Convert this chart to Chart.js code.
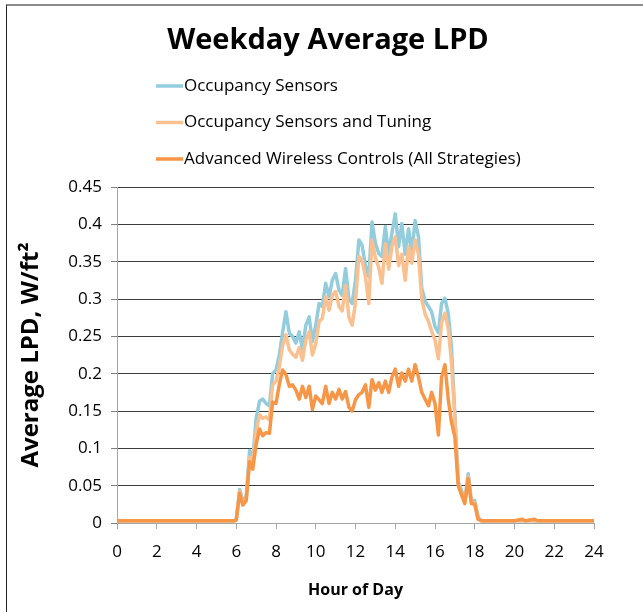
<!DOCTYPE html>
<html>
<head>
<meta charset="utf-8">
<script src="https://cdn.jsdelivr.net/npm/chart.js@4.4.1/dist/chart.umd.min.js"></script>
<style>
html,body{margin:0;padding:0;background:#fff;overflow:hidden;}
#wrap{position:relative;width:643px;height:612px;}
#frame{position:absolute;left:6px;top:4px;width:700px;height:700px;border-top:2px solid #8c8c8c;border-left:1px solid #222;pointer-events:none;}
</style>
</head>
<body>
<div id="wrap">
<canvas id="lpd" width="643" height="612"></canvas>
<div id="frame"></div>
</div>
<script>
// hour of day
const hours=[0,1,2,3,4,5,5.92,
6.00,6.17,6.33,6.50,6.67,6.83,7.00,7.17,7.33,7.50,7.67,7.83,
8.00,8.17,8.33,8.50,8.67,8.83,9.00,9.17,9.33,9.50,9.67,9.83,
10.00,10.17,10.33,10.50,10.67,10.83,11.00,11.17,11.33,11.50,11.67,11.83,
12.00,12.17,12.33,12.50,12.67,12.83,13.00,13.17,13.33,13.50,13.67,13.83,
14.00,14.17,14.33,14.50,14.67,14.83,15.00,15.17,15.33,15.50,15.67,15.83,
16.00,16.17,16.33,16.50,16.67,16.83,17.00,17.17,17.33,17.50,17.67,17.83,
18.00,18.17,18.33,19,20,20.4,20.55,21,21.15,22,23,24];

const occSensors=[0.003,0.003,0.003,0.003,0.003,0.003,0.003,
0.004,0.045,0.030,0.035,0.097,0.086,0.140,0.163,0.166,0.160,0.157,0.200,
0.205,0.225,0.255,0.283,0.254,0.250,0.241,0.256,0.232,0.265,0.276,0.243,
0.265,0.294,0.290,0.321,0.303,0.325,0.334,0.312,0.305,0.341,0.300,0.294,
0.325,0.379,0.372,0.345,0.330,0.403,0.375,0.361,0.357,0.397,0.360,0.388,
0.414,0.370,0.401,0.360,0.394,0.362,0.405,0.383,0.315,0.297,0.290,0.283,
0.263,0.255,0.294,0.301,0.280,0.235,0.145,0.055,0.044,0.030,0.066,0.030,
0.030,0.008,0.003,0.003,0.003,0.003,0.003,0.003,0.003,0.003,0.003,0.003];

const occTuning=[0.003,0.003,0.003,0.003,0.003,0.003,0.003,
0.004,0.042,0.027,0.032,0.088,0.080,0.122,0.145,0.140,0.142,0.138,0.185,
0.190,0.210,0.237,0.252,0.232,0.226,0.222,0.235,0.218,0.245,0.256,0.225,
0.240,0.270,0.274,0.303,0.285,0.305,0.310,0.290,0.284,0.318,0.275,0.265,
0.295,0.357,0.352,0.330,0.294,0.379,0.355,0.342,0.321,0.374,0.340,0.370,
0.383,0.345,0.360,0.325,0.370,0.348,0.379,0.360,0.300,0.280,0.270,0.257,
0.245,0.220,0.268,0.281,0.260,0.215,0.140,0.052,0.040,0.028,0.062,0.028,
0.027,0.006,0.003,0.003,0.003,0.003,0.003,0.003,0.003,0.003,0.003,0.003];

const advWireless=[0.003,0.003,0.003,0.003,0.003,0.003,0.003,
0.004,0.040,0.024,0.030,0.082,0.072,0.105,0.126,0.117,0.121,0.120,0.162,
0.160,0.186,0.205,0.199,0.183,0.185,0.178,0.166,0.183,0.168,0.183,0.152,
0.170,0.165,0.160,0.183,0.160,0.175,0.166,0.179,0.166,0.176,0.155,0.150,
0.165,0.172,0.175,0.185,0.155,0.192,0.178,0.188,0.175,0.190,0.175,0.195,
0.206,0.183,0.201,0.190,0.206,0.190,0.212,0.195,0.175,0.166,0.157,0.175,
0.160,0.118,0.195,0.212,0.165,0.135,0.115,0.050,0.038,0.026,0.060,0.026,
0.025,0.005,0.003,0.003,0.003,0.005,0.003,0.005,0.003,0.003,0.003,0.003];

const seriesNames=["Occupancy Sensors","Occupancy Sensors and Tuning","Advanced Wireless Controls (All Strategies)"];
const seriesColors=["#93cddd","#fac090","#f79646"];
const xTicks=[0,2,4,6,8,10,12,14,16,18,20,22,24];

const FONT='"Open Sans", "DejaVu Sans", sans-serif';

function pts(vals){return hours.map((h,i)=>({x:h,y:vals[i]}));}

const header={
  id:"header",
  afterDraw(chart){
    const ctx=chart.ctx;
    ctx.save();
    ctx.fillStyle="#000";
    ctx.textAlign="center";
    ctx.textBaseline="middle";
    ctx.font="bold 29px "+FONT;
    ctx.fillText("Weekday Average LPD",328,41);
    ctx.textAlign="left";
    ctx.font="17px "+FONT;
    chart.data.datasets.forEach((d,i)=>{
      const y=86+i*36.5;
      ctx.strokeStyle=d.borderColor;
      ctx.lineWidth=3.5;
      ctx.beginPath();ctx.moveTo(156,y);ctx.lineTo(183,y);ctx.stroke();
      ctx.fillText(d.label,184,y);
    });
    ctx.restore();
  }
};

new Chart(document.getElementById("lpd"),{
  type:"line",
  data:{datasets:[
    {label:seriesNames[0],data:pts(occSensors),borderColor:seriesColors[0],order:3},
    {label:seriesNames[1],data:pts(occTuning),borderColor:seriesColors[1],order:2},
    {label:seriesNames[2],data:pts(advWireless),borderColor:seriesColors[2],order:1}
  ]},
  options:{
    responsive:false,
    animation:false,
    layout:{padding:{top:187,right:49,left:0,bottom:0}},
    elements:{line:{borderWidth:3.5,tension:0,borderJoinStyle:"round",borderCapStyle:"round"},point:{radius:0}},
    plugins:{legend:{display:false},tooltip:{enabled:false}},
    scales:{
      x:{
        type:"linear",min:0,max:24,
        afterBuildTicks(s){s.ticks=xTicks.map(v=>({value:v}));},
        afterFit(s){s.height=89;},
        grid:{drawOnChartArea:false,drawTicks:true,tickLength:6,color:"#a6a6a6"},
        border:{color:"#a6a6a6",width:1},
        ticks:{color:"#000",font:{family:FONT,size:17},padding:13,maxRotation:0},
        title:{display:true,text:"Hour of Day",color:"#000",font:{family:FONT,size:16,weight:"bold"},padding:{top:0,bottom:12}}
      },
      y:{
        min:0,max:0.45,
        afterFit(s){s.width=117;},
        ticks:{stepSize:0.05,color:"#000",font:{family:FONT,size:17},padding:9,
          callback:v=>String(Math.round(v*100)/100)},
        grid:{color:c=>c.tick&&c.tick.value===0?"rgba(0,0,0,0)":"#3c3c3c",tickColor:"#7f7f7f",tickLength:6,lineWidth:1},
        border:{color:"#a6a6a6",width:1},
        title:{display:true,text:"Average LPD, W/ft²",color:"#000",font:{family:FONT,size:24,weight:"bold"},padding:{top:17,bottom:0}}
      }
    }
  },
  plugins:[header]
});
</script>
</body>
</html>
